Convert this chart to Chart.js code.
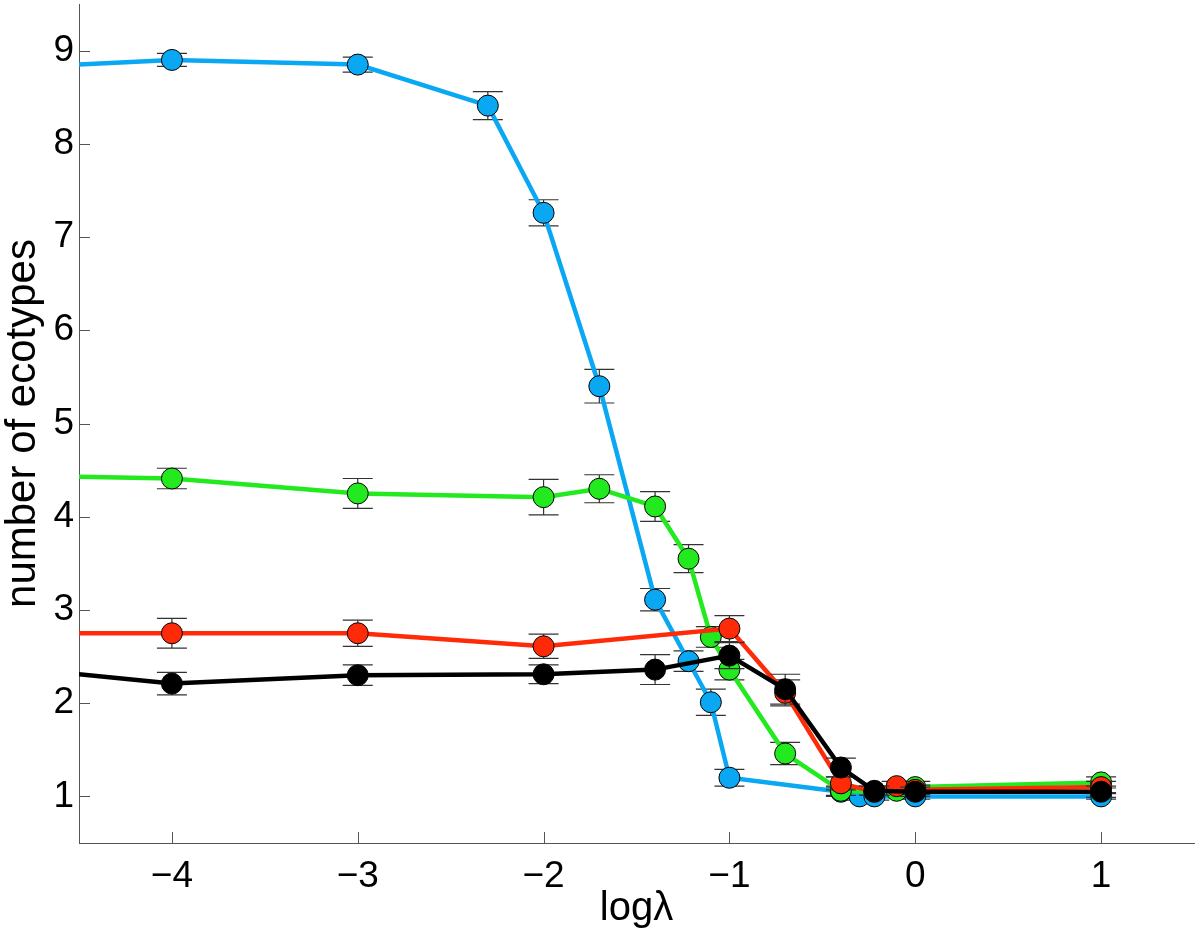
<!DOCTYPE html>
<html>
<head>
<meta charset="utf-8">
<script src="https://cdn.jsdelivr.net/npm/chart.js@4"></script>
<style>
  html, body { margin: 0; padding: 0; background: #fff; }
  #wrap { width: 1200px; height: 935px; }
</style>
</head>
<body>
<div id="wrap"><canvas id="myChart"></canvas></div>
<script>
// log(lambda) positions and mean number of ecotypes, one set per curve
const xBlue = [-5, -4, -3, -2.3, -2, -1.7, -1.4, -1.22, -1.1, -1, -0.4, -0.3, -0.22, 0, 1];
const yBlue = [8.8, 8.9, 8.85, 8.41, 7.26, 5.4, 3.11, 2.45, 2.01, 1.2, 1.05, 1.0, 1.0, 1.0, 1.0];
const eBlue = [0.07, 0.07, 0.08, 0.15, 0.14, 0.18, 0.12, 0.11, 0.14, 0.09, 0.05, 0.04, 0.04, 0.03, 0.03];

const xGreen = [-5, -4, -3, -2, -1.7, -1.4, -1.22, -1.1, -1, -0.7, -0.4, -0.22, -0.1, 0, 1];
const yGreen = [4.45, 4.41, 4.25, 4.21, 4.3, 4.11, 3.55, 2.71, 2.36, 1.46, 1.06, 1.05, 1.06, 1.1, 1.15];
const eGreen = [0.1, 0.11, 0.16, 0.19, 0.15, 0.16, 0.15, 0.11, 0.11, 0.12, 0.05, 0.04, 0.05, 0.06, 0.06];

const xRed = [-5, -4, -3, -2, -1, -0.7, -0.4, -0.22, -0.1, 0, 1];
const yRed = [2.75, 2.75, 2.75, 2.61, 2.8, 2.11, 1.14, 1.05, 1.11, 1.07, 1.1];
const eRed = [0.15, 0.16, 0.14, 0.13, 0.14, 0.14, 0.07, 0.04, 0.05, 0.05, 0.06];

const xBlack = [-5, -4, -3, -2, -1.4, -1, -0.7, -0.4, -0.22, 0, 1];
const yBlack = [2.41, 2.21, 2.3, 2.31, 2.36, 2.51, 2.15, 1.31, 1.06, 1.05, 1.05];
const eBlack = [0.12, 0.12, 0.11, 0.1, 0.16, 0.14, 0.16, 0.1, 0.05, 0.05, 0.06];

const xTicks = [-4, -3, -2, -1, 0, 1];
const yTicks = [1, 2, 3, 4, 5, 6, 7, 8, 9];

const FONT = "'Liberation Sans', Arial, Helvetica, sans-serif";
const axisColor = '#555555';

function makeSet(xs, ys, errs, color, order) {
  return {
    data: xs.map((x, i) => ({ x, y: ys[i] })),
    errs,
    order,
    borderColor: color,
    backgroundColor: color,
    borderWidth: 4.5,
    pointRadius: 10.5,
    pointBorderColor: '#000',
    pointBorderWidth: 1,
    pointBackgroundColor: color,
    tension: 0
  };
}

// vertical error bars drawn just before each dataset's own line
const errorBars = {
  id: 'errorBars',
  beforeDatasetDraw(chart, args) {
    const ds = chart.data.datasets[args.index];
    const yScale = chart.scales.y;
    const area = chart.chartArea;
    const ctx = chart.ctx;
    ctx.save();
    ctx.beginPath();
    ctx.rect(area.left, area.top, area.right - area.left, area.bottom - area.top);
    ctx.clip();
    ctx.strokeStyle = '#333';
    ctx.lineWidth = 1.2;
    args.meta.data.forEach((pt, i) => {
      const v = ds.data[i].y;
      const e = ds.errs[i];
      const top = yScale.getPixelForValue(v + e);
      const bot = yScale.getPixelForValue(v - e);
      ctx.beginPath();
      ctx.moveTo(pt.x, top);
      ctx.lineTo(pt.x, bot);
      ctx.moveTo(pt.x - 15, top);
      ctx.lineTo(pt.x + 15, top);
      ctx.moveTo(pt.x - 15, bot);
      ctx.lineTo(pt.x + 15, bot);
      ctx.stroke();
    });
    ctx.restore();
  }
};

// inward tick marks, like the original figure
const innerTicks = {
  id: 'innerTicks',
  afterDraw(chart) {
    const { ctx, chartArea, scales } = chart;
    ctx.save();
    ctx.strokeStyle = axisColor;
    ctx.lineWidth = 1;
    ctx.beginPath();
    scales.x.ticks.forEach(t => {
      const px = Math.round(scales.x.getPixelForValue(t.value)) + 0.5;
      ctx.moveTo(px, chartArea.bottom);
      ctx.lineTo(px, chartArea.bottom - 11);
    });
    scales.y.ticks.forEach(t => {
      const py = Math.round(scales.y.getPixelForValue(t.value)) + 0.5;
      ctx.moveTo(chartArea.left, py);
      ctx.lineTo(chartArea.left + 11, py);
    });
    ctx.stroke();
    ctx.restore();
  }
};

new Chart(document.getElementById('myChart'), {
  type: 'line',
  data: {
    datasets: [
      makeSet(xBlue, yBlue, eBlue, '#0AA8F2', 4),
      makeSet(xGreen, yGreen, eGreen, '#22EA1E', 3),
      makeSet(xRed, yRed, eRed, '#FF2A08', 2),
      makeSet(xBlack, yBlack, eBlack, '#000000', 1)
    ]
  },
  options: {
    responsive: true,
    maintainAspectRatio: false,
    devicePixelRatio: 1,
    animation: false,
    layout: { autoPadding: false, padding: { top: 4, right: 6, left: 0, bottom: 0 } },
    plugins: {
      legend: { display: false },
      tooltip: { enabled: false }
    },
    scales: {
      x: {
        type: 'linear',
        min: -4.5,
        max: 1.5,
        afterBuildTicks: scale => { scale.ticks = xTicks.map(v => ({ value: v })); },
        afterFit: scale => {
          scale.height = 92;
          scale.paddingLeft = 0;
          scale.paddingRight = 0;
        },
        grid: { display: false, drawTicks: false },
        border: { display: true, color: axisColor, width: 1 },
        ticks: {
          padding: 12,
          color: '#000',
          font: { family: FONT, size: 37 },
          maxRotation: 0,
          callback: v => (v < 0 ? '\u2212' + Math.abs(v) : String(v))
        },
        title: {
          display: true,
          text: 'log\u03bb',
          color: '#000',
          font: { family: FONT, size: 40, lineHeight: 1.0 },
          padding: { top: 0, bottom: 6 }
        }
      },
      y: {
        type: 'linear',
        min: 0.5,
        max: 9.5,
        afterBuildTicks: scale => { scale.ticks = yTicks.map(v => ({ value: v })); },
        afterFit: scale => {
          scale.width = 79;
          scale.paddingTop = 0;
          scale.paddingBottom = 0;
        },
        grid: { display: false, drawTicks: false },
        border: { display: true, color: axisColor, width: 1 },
        ticks: {
          padding: 5,
          color: '#000',
          font: { family: FONT, size: 37 }
        },
        title: {
          display: true,
          text: 'number of ecotypes',
          color: '#000',
          font: { family: FONT, size: 42, lineHeight: 1.0 },
          padding: { top: 2, bottom: 0 }
        }
      }
    }
  },
  plugins: [errorBars, innerTicks]
});
</script>
</body>
</html>
